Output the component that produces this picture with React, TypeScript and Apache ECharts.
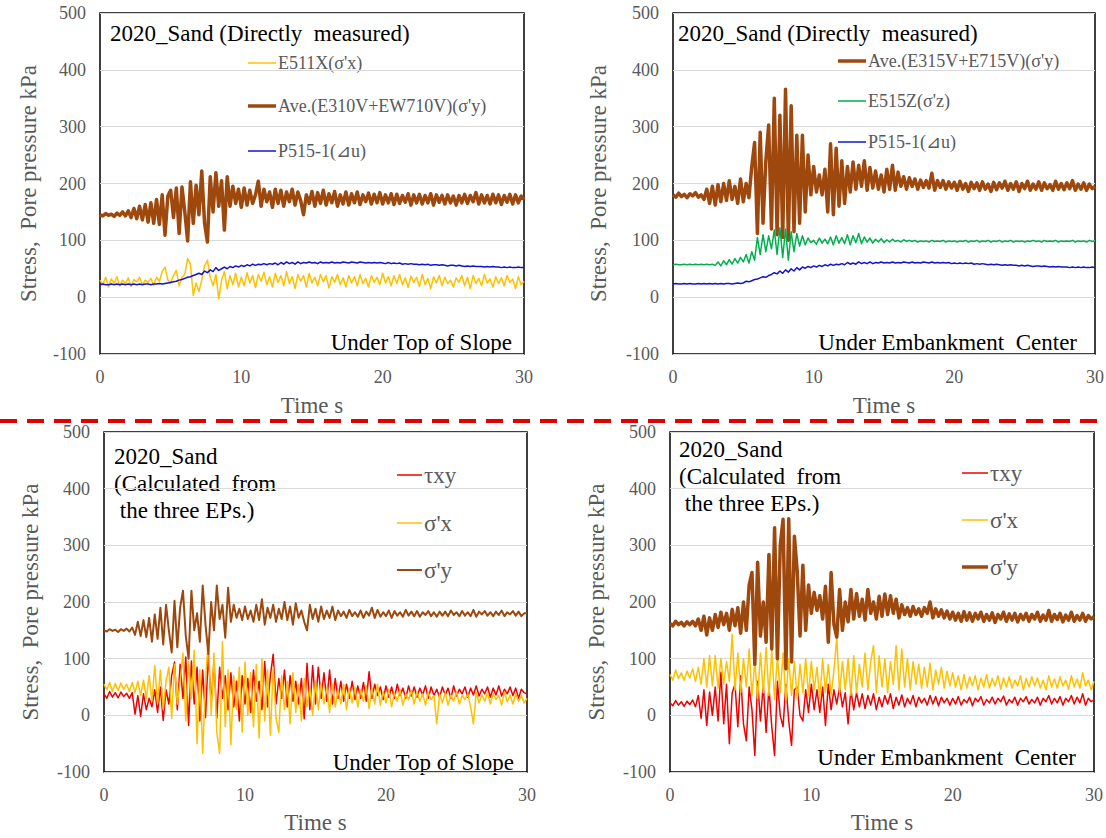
import React, { useEffect, useRef } from "react";
import * as echarts from "echarts";

// Records are sampled every STEP seconds, starting at t = 0 s.
const STEP = 0.2;

// ---- Under Top of Slope, directly measured ----
const slopeE511X = [
  30,22,35,18,32, 25,36,20,30,24, 34,19,31,27,35, 22,30,26,33,21, 35,28,45,53,30,
  25,38,47,20,35, 40,68,58,3,25, 10,30,55,65,35, 20,40,-3,30,45, 15,38,22,42,18,
  35,20,43,25,38, 17,40,28,44,22, 36,18,42,26,38, 20,45,24,36,15, 40,28,38,18,42,
  25,35,20,40,27, 38,16,36,26,40, 22,34,18,38,25, 36,20,40,24,33, 18,38,26,35,22,
  42,25,36,20,38, 24,40,22,34,17, 37,26,35,19,40, 22,33,15,36,25, 38,20,35,24,30,
  18,34,26,38,20, 35,15,38,24,33, 20,40,25,32,18, 36,24,34,20,38, 26,32,15,36,22,
  28,
];
const slopeAveV = [
  145,143,147,144,146, 142,148,144,150,143, 152,140,156,138,160, 136,163,132,166,130, 172,128,180,109,178,
  188,140,192,112,194, 150,99,203,130,197, 145,222,130,97,212, 150,219,160,205,118, 212,160,195,165,190,
  158,192,162,188,165, 180,204,160,190,168, 185,158,190,165,188, 160,185,168,190,162, 185,170,145,180,165,
  186,160,184,165,188, 162,182,166,186,160, 180,164,185,162,182, 166,185,163,180,168, 183,164,181,166,184,
  164,180,166,182,163, 181,165,179,167,182, 162,180,166,181,164, 179,166,182,162,180, 167,179,164,180,166,
  178,162,179,166,181, 165,179,168,184,164, 180,166,179,164,181, 166,180,163,179,167, 181,164,180,166,178,
  172,
];
const slopeP515 = [
  22,23,22,22,23, 22,23,22,23,22, 23,22,23,22,23, 22,23,23,22,23, 23,24,23,24,25,
  26,27,28,30,31, 33,35,36,38,40, 42,40,46,43,48, 45,52,47,50,53, 50,54,52,55,53,
  56,54,57,55,58, 56,58,57,59,57, 59,58,60,57,61, 58,62,59,61,58, 62,59,61,60,62,
  60,61,59,62,60, 61,60,62,60,61, 60,62,61,60,62, 61,60,62,61,60, 61,60,61,60,61,
  60,59,61,59,60, 59,60,58,59,58, 59,58,58,57,58, 57,58,56,57,57, 56,57,56,55,56,
  56,55,56,55,54, 55,54,55,54,54, 54,53,54,53,54, 53,53,52,53,52, 53,52,52,53,52,
  52,
];

// ---- Under Embankment Center, directly measured ----
const centerAveV = [
  180,176,183,177,181, 175,182,178,184,176, 180,172,190,165,195, 162,198,168,200,170, 205,172,195,165,208,
  168,200,175,230,272, 112,290,130,240,303, 120,350,110,320,105, 366,100,337,115,285, 130,285,150,250,180,
  230,185,215,180,225, 150,270,145,262,160, 240,165,230,185,238, 190,232,195,240,188, 228,192,222,190,215,
  185,225,190,232,188, 220,195,212,190,210, 195,208,190,206,193, 205,192,218,188,205, 193,205,190,203,192,
  202,188,204,190,200, 186,202,191,201,188, 203,190,199,186,202, 189,201,192,204,188, 200,190,203,186,200,
  191,204,188,199,190, 203,188,201,191,198, 188,204,190,200,189, 201,191,205,188,199, 190,201,188,199,191,
  195,
];
const centerE515Z = [
  57,58,57,57,58, 57,58,57,58,57, 58,57,58,57,58, 56,62,55,64,57, 66,58,68,60,70,
  62,75,60,80,65, 105,75,110,80,108, 85,118,75,122,70, 120,65,115,80,112, 90,108,92,104,96,
  100,93,104,95,102, 94,106,92,108,95, 105,94,110,92,108, 96,112,94,106,97, 104,95,102,97,103,
  96,101,97,102,98, 100,97,101,98,100, 98,100,97,99,98, 99,97,100,98,99, 98,100,97,99,98,
  99,97,99,98,100, 97,99,98,100,97, 99,98,100,97,99, 98,100,97,99,98, 100,97,99,98,99,
  97,99,98,100,98, 99,97,100,98,99, 98,100,97,99,98, 99,98,100,97,99, 98,99,97,100,98,
  99,
];
const centerP515 = [
  23,24,23,23,24, 23,24,23,23,24, 23,24,23,24,23, 24,23,24,23,24, 24,23,24,25,24,
  25,28,27,29,31, 32,34,36,35,38, 40,43,41,46,42, 48,44,50,46,52, 48,53,51,54,52,
  55,53,56,54,57, 55,58,56,58,57, 59,57,61,58,60, 58,62,59,61,59, 62,59,61,60,62,
  60,61,60,62,60, 61,60,62,61,60, 62,60,61,60,62, 61,60,62,60,61, 60,61,60,61,59,
  60,59,60,59,60, 59,60,58,59,58, 59,58,57,58,57, 58,57,56,57,56, 57,56,56,55,56,
  55,56,55,54,55, 55,54,55,54,53, 54,53,54,53,53, 53,52,53,52,53, 52,53,52,52,53,
  52,
];

// ---- Under Top of Slope, calculated from the three EPs ----
const slopeTau = [
  38,30,42,32,40, 31,41,33,39,30, 40,2,35,-2,38, 10,30,15,45,5, 50,-9,45,20,70,
  94,10,90,30,103, -18,96,20,85,-10, 80,-4,110,20,95, -5,85,30,70,10, 75,15,60,-10,70,
  20,65,5,80,25, 60,10,95,15,70, 108,20,65,30,80, 15,70,25,60,20, 65,-6,92,10,88,
  20,85,30,75,25, 80,20,65,30,60, 25,55,30,60,28, 52,30,58,25,77, 30,55,35,50,28,
  52,32,50,30,55, 35,48,30,52,34, 50,32,48,36,52, 30,50,35,46,32, 50,36,48,30,52,
  34,46,38,50,32, 48,36,52,34,46, 38,50,32,48,36, 52,34,46,38,50, 35,48,30,46,40,
  38,
];
const slopeSigmaX = [
  55,45,58,42,56, 44,57,46,55,42, 58,40,60,35,62, 30,70,25,88,20, 80,10,60,85,-5,
  90,20,60,110,-10, 95,30,115,-50,80, -67,60,135,0,110, -30,-67,130,-20,80, -52,70,10,85,-30,
  94,0,75,-20,90, -40,100,-10,80,-35, 85,-5,-30,70,10, 60,-15,75,5,55, -10,65,15,50,0,
  60,10,55,20,50, 5,55,15,45,20, 55,10,48,22,50, 15,45,25,52,12, 48,20,55,18,42,
  22,46,15,40,25, 45,18,38,28,44, 20,42,25,38,18, 40,28,35,-15,38, 22,40,18,36,25,
  42,20,35,28,38, 15,-15,40,22,36, 25,40,20,38,28, 35,18,42,24,36, 20,38,25,35,22,
  30,
];
const slopeSigmaY = [
  150,148,152,149,151, 147,152,149,153,148, 155,142,165,140,168, 138,172,130,178,135, 190,125,195,150,111,
  202,120,190,220,140, 100,220,150,180,130, 229,160,108,200,150, 229,170,195,137,225, 165,195,172,188,168,
  192,170,185,165,195, 168,205,160,190,172, 195,165,188,170,200, 168,192,160,198,172, 185,165,150,195,170,
  188,165,192,170,185, 172,192,168,185,175, 183,172,186,175,182, 174,185,172,183,176, 190,172,186,174,182,
  175,185,172,184,176, 182,174,186,176,183, 175,184,174,182,177, 184,175,182,174,183, 176,183,175,185,177,
  182,175,184,176,182, 175,186,174,183,178, 184,176,182,175,183, 177,185,175,182,178, 184,176,183,175,180,
  180,
];

// ---- Under Embankment Center, calculated from the three EPs ----
const centerTau = [
  22,17,26,18,24, 16,25,19,27,15, 35,-5,45,-18,41, 0,50,-10,76,-15, 55,-50,40,55,-20,
  70,-15,-45,50,10, -71,60,-10,55,-30, 50,-20,-71,60,0, -20,55,-10,-53,45, 50,0,-10,45,5,
  55,10,45,5,50, -18,55,10,45,20, 50,15,40,-15,45, 10,40,15,38,12, 35,18,38,10,32,
  15,35,20,38,12, 32,18,36,15,30, 20,35,15,32,22, 30,18,35,20,33, 17,32,22,30,18,
  30,20,33,18,28, 22,32,17,30,24, 33,18,28,22,32, 20,30,24,34,18, 28,22,32,18,30,
  24,33,20,28,22, 32,18,30,24,35, 20,30,22,33,18, 30,24,35,20,32, 22,38,18,30,24,
  28,
];
const centerSigmaX = [
  72,62,80,65,75, 62,78,66,82,60, 85,55,100,50,105, 52,105,48,100,55, 95,60,143,45,110,
  40,100,50,117,35, 95,30,110,40,120, 35,115,28,105,40, 110,26,100,35,95, 30,90,40,100,35,
  95,45,85,30,100, 40,90,35,80,137, 40,95,45,100,35, 105,40,90,50,110, 45,95,123,40,105,
  50,100,40,95,55, 123,45,117,50,100, 45,95,55,90,48, 85,50,92,45,80, 55,85,48,78,52,
  75,50,70,45,72, 48,68,52,70,45, 66,50,72,48,65, 52,70,46,66,50, 68,48,62,52,70,
  45,65,50,68,52, 66,48,62,45,70, 50,64,48,68,52, 62,46,70,50,64, 48,75,52,62,45,
  60,
];
const centerSigmaY = [
  162,158,166,160,164, 158,165,160,166,158, 170,150,175,142,172, 150,178,155,182,160, 180,150,187,158,190,
  145,200,150,230,252, 90,270,140,200,129, 284,117,331,100,300, 346,82,347,94,316, 255,140,265,150,230,
  180,217,185,211,170, 228,129,252,160,138, 222,150,200,165,222, 170,215,175,205,168, 222,180,200,170,210,
  175,214,178,211,180, 205,172,195,178,190, 175,192,178,188,175, 190,180,200,172,188, 175,186,172,184,170,
  182,168,180,166,183, 168,181,166,180,170, 182,166,178,168,181, 164,178,170,182,166, 179,168,180,165,178,
  169,180,166,178,170, 182,166,177,168,185, 166,178,169,180,165, 177,168,182,166,176, 168,180,166,176,170,
  174,
];

const TIME_MIN = 0;
const TIME_MAX = 30;
const TIME_INTERVAL = 10;
const STRESS_MIN = -100;
const STRESS_MAX = 500;
const STRESS_INTERVAL = 100;

const TIME_NAME = "Time s";
const STRESS_NAME = "Stress,  Pore pressure kPa";

const SERIF = "Liberation Serif";
const GRAY = "#595959";
const BROWN = "#9E480E";
const YELLOW = "#FFC000";
const BLUE = "#1414CC";
const GREEN = "#00B050";
const RED = "#F00000";

const toPoints = (vals: number[]) =>
  vals.map((v, i) => [Math.round(i * STEP * 10) / 10, v]);

type Trace = { name: string; values: number[]; color: string; width: number };
type Panel = {
  grid: { left: number; top: number; width: number; height: number };
  yNameGap: number;
  xNameGap: number;
  traces: Trace[];
  title: { text: string; x: number; y: number };
  place: { text: string; x: number; y: number };
  legend: { x1: number; x2: number; ys: number[]; font: number; labels: string[] };
};

const panels: Panel[] = [
  {
    grid: { left: 100, top: 13, width: 424, height: 341 },
    yNameGap: 60,
    xNameGap: 40,
    traces: [
      { name: "E511X(σ'x)", values: slopeE511X, color: YELLOW, width: 1.5 },
      { name: "Ave.(E310V+EW710V)(σ'y)", values: slopeAveV, color: BROWN, width: 3.5 },
      { name: "P515-1(⊿u)", values: slopeP515, color: BLUE, width: 1.5 },
    ],
    title: { text: "2020_Sand (Directly  measured)", x: 110, y: 33 },
    place: { text: "Under Top of Slope", x: 512, y: 342 },
    legend: { x1: 248, x2: 276, ys: [63, 106, 151], font: 18, labels: ["E511X(σ'x)", "Ave.(E310V+EW710V)(σ'y)", "P515-1(⊿u)"] },
  },
  {
    grid: { left: 673, top: 13, width: 422, height: 341 },
    yNameGap: 63,
    xNameGap: 40,
    traces: [
      { name: "Ave.(E315V+E715V)(σ'y)", values: centerAveV, color: BROWN, width: 3.5 },
      { name: "E515Z(σ'z)", values: centerE515Z, color: GREEN, width: 1.5 },
      { name: "P515-1(⊿u)", values: centerP515, color: BLUE, width: 1.5 },
    ],
    title: { text: "2020_Sand (Directly  measured)", x: 678, y: 33 },
    place: { text: "Under Embankment  Center", x: 1077, y: 342 },
    legend: { x1: 838, x2: 866, ys: [61, 101, 142], font: 18, labels: ["Ave.(E315V+E715V)(σ'y)", "E515Z(σ'z)", "P515-1(⊿u)"] },
  },
  {
    grid: { left: 104, top: 432, width: 423, height: 340 },
    yNameGap: 62,
    xNameGap: 39,
    traces: [
      { name: "τxy", values: slopeTau, color: RED, width: 1.5 },
      { name: "σ'x", values: slopeSigmaX, color: YELLOW, width: 1.5 },
      { name: "σ'y", values: slopeSigmaY, color: BROWN, width: 2 },
    ],
    title: { text: "2020_Sand\n(Calculated  from\n the three EPs.)", x: 114, y: 483 },
    place: { text: "Under Top of Slope", x: 514, y: 762 },
    legend: { x1: 397, x2: 422, ys: [475, 523, 570], font: 23, labels: ["τxy", "σ'x", "σ'y"] },
  },
  {
    grid: { left: 670, top: 432, width: 424, height: 340 },
    yNameGap: 62,
    xNameGap: 39,
    traces: [
      { name: "τxy", values: centerTau, color: RED, width: 1.5 },
      { name: "σ'x", values: centerSigmaX, color: YELLOW, width: 1.5 },
      { name: "σ'y", values: centerSigmaY, color: BROWN, width: 3.5 },
    ],
    title: { text: "2020_Sand\n(Calculated  from\n the three EPs.)", x: 679, y: 476 },
    place: { text: "Under Embankment  Center", x: 1076, y: 757 },
    legend: { x1: 962, x2: 988, ys: [473, 520, 567], font: 23, labels: ["τxy", "σ'x", "σ'y"] },
  },
];

function buildOption() {
  const grid = panels.map((p) => ({
    ...p.grid,
    show: true,
    borderColor: "#000",
    borderWidth: 1.5,
    backgroundColor: "transparent",
    containLabel: false,
    outerBoundsMode: "none",
  }));

  const xAxis = panels.map((p, i) => ({
    type: "value",
    gridIndex: i,
    min: TIME_MIN,
    max: TIME_MAX,
    interval: TIME_INTERVAL,
    axisLine: { show: false },
    axisTick: { show: false },
    splitLine: { show: false },
    axisLabel: { color: GRAY, fontSize: 18, fontFamily: SERIF, margin: 14 },
    name: TIME_NAME,
    nameLocation: "middle",
    nameGap: p.xNameGap,
    nameTextStyle: { color: GRAY, fontSize: 23, fontFamily: SERIF },
  }));

  const yAxis = panels.map((p, i) => ({
    type: "value",
    gridIndex: i,
    min: STRESS_MIN,
    max: STRESS_MAX,
    interval: STRESS_INTERVAL,
    axisLine: { show: false },
    axisTick: { show: false },
    splitLine: { lineStyle: { color: "#D9D9D9", width: 1 } },
    axisLabel: { color: GRAY, fontSize: 18, fontFamily: SERIF, margin: 14 },
    name: STRESS_NAME,
    nameLocation: "middle",
    nameGap: p.yNameGap,
    nameTextStyle: { color: GRAY, fontSize: 23, fontFamily: SERIF },
  }));

  const series: any[] = [];
  panels.forEach((p, i) => {
    p.traces.forEach((t) => {
      series.push({
        type: "line",
        name: t.name,
        xAxisIndex: i,
        yAxisIndex: i,
        data: toPoints(t.values),
        showSymbol: false,
        symbol: "none",
        silent: true,
        lineStyle: { color: t.color, width: t.width, join: "round" },
        itemStyle: { color: t.color },
      });
    });
  });

  const graphic: any[] = [];
  panels.forEach((p) => {
    graphic.push({
      type: "text",
      x: p.title.x,
      y: p.title.y,
      silent: true,
      style: {
        text: p.title.text,
        fill: "#000",
        font: `23px ${SERIF}`,
        lineHeight: 27,
        align: "left",
        verticalAlign: "middle",
      },
    });
    graphic.push({
      type: "text",
      x: p.place.x,
      y: p.place.y,
      silent: true,
      style: {
        text: p.place.text,
        fill: "#000",
        font: `23px ${SERIF}`,
        align: "right",
        verticalAlign: "middle",
      },
    });
    p.traces.forEach((t, k) => {
      const y = p.legend.ys[k];
      graphic.push({
        type: "line",
        silent: true,
        shape: { x1: p.legend.x1, y1: y, x2: p.legend.x2, y2: y },
        style: { stroke: t.color, lineWidth: t.width },
      });
      graphic.push({
        type: "text",
        x: p.legend.x2 + 2,
        y,
        silent: true,
        style: {
          text: p.legend.labels[k],
          fill: GRAY,
          font: `${p.legend.font}px ${SERIF}`,
          align: "left",
          verticalAlign: "middle",
        },
      });
    });
  });

  // dashed separator between the measured and the calculated rows
  graphic.push({
    type: "line",
    silent: true,
    shape: { x1: 0, y1: 421, x2: 1106, y2: 421 },
    style: { stroke: "#E00000", lineWidth: 4, lineDash: [17, 10] },
  });

  return {
    animation: false,
    backgroundColor: "#fff",
    grid,
    xAxis,
    yAxis,
    series,
    graphic,
  };
}

export default function App() {
  const ref = useRef<HTMLDivElement>(null);

  useEffect(() => {
    if (!ref.current) return;
    const chart = echarts.init(ref.current, null, { renderer: "svg" });
    chart.setOption(buildOption() as any);
    return () => chart.dispose();
  }, []);

  return (
    <div
      ref={ref}
      style={{ position: "fixed", left: 0, top: 0, width: 1106, height: 838 }}
    />
  );
}
